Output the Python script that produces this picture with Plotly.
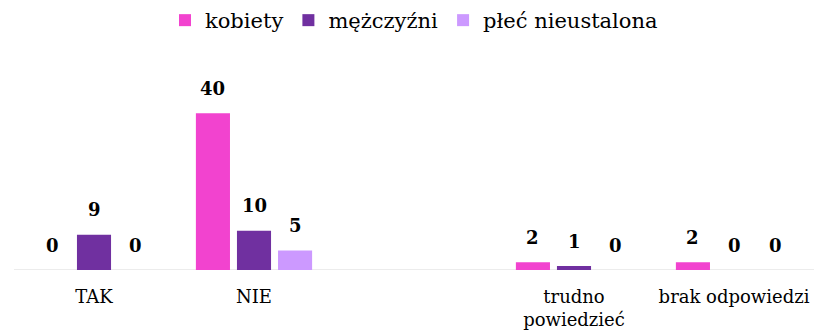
import plotly.graph_objects as go

# Survey answers split by gender
categories = ["TAK", "NIE", "", "trudno<br>powiedzieć", "brak odpowiedzi"]
kobiety = [0, 40, None, 2, 2]
mezczyzni = [9, 10, None, 1, 0]
plec_nieustalona = [0, 5, None, 0, 0]

series = [
    ("kobiety", kobiety, "#F243CF"),
    ("mężczyźni", mezczyzni, "#7030A0"),
    ("płeć nieustalona", plec_nieustalona, "#CC99FF"),
]

FONT = "DejaVu Serif"
BARGAP = 0.23
x_pos = list(range(len(categories)))

fig = go.Figure()
annotations = []
slot = (1 - BARGAP) / len(series)
for j, (name, vals, color) in enumerate(series):
    fig.add_trace(go.Bar(
        x=x_pos, y=vals, name=name, marker_color=color,
        marker_line_width=0,
    ))
    offset = (j - (len(series) - 1) / 2) * slot
    for i, v in enumerate(vals):
        if v is None:
            continue
        annotations.append(dict(
            x=i + offset, y=v, xref="x", yref="y", text=f"<b>{v}</b>",
            showarrow=False, yanchor="middle", yshift=25,
            font=dict(family=FONT, size=18, color="#000000"),
        ))

fig.update_layout(
    width=814, height=331,
    margin=dict(l=14, r=0, t=74, b=61),
    paper_bgcolor="white", plot_bgcolor="white",
    barmode="group", bargap=BARGAP, bargroupgap=0.17,
    font=dict(family=FONT, size=19, color="#000000"),
    showlegend=True,
    legend=dict(
        orientation="h", x=0.5, xanchor="center", y=1.276, yanchor="middle",
        font=dict(family=FONT, size=21, color="#000000"),
        itemwidth=30, tracegroupgap=0,
    ),
    annotations=annotations,
    xaxis=dict(
        range=[-0.5, len(categories) - 0.5],
        tickmode="array", tickvals=x_pos, ticktext=categories,
        showgrid=False, zeroline=False, showline=False, ticks="",
        ticklabelstandoff=14,
        tickfont=dict(family=FONT, size=18, color="#000000"),
    ),
    yaxis=dict(
        range=[0, 50], visible=False, showgrid=False,
        zeroline=True, zerolinecolor="#D9D9D9", zerolinewidth=1,
    ),
)
fig.add_shape(type="line", xref="paper", yref="y", x0=0, x1=1, y0=0, y1=0,
              line=dict(color="#D9D9D9", width=1), layer="below")

fig.write_html("out.html")
